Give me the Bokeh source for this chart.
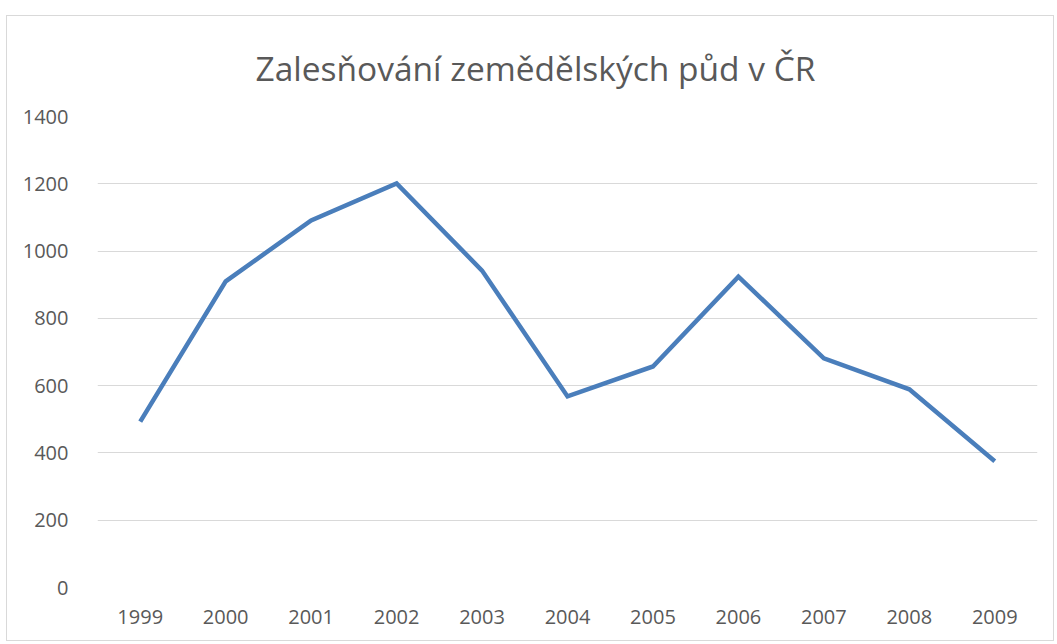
from bokeh.plotting import figure
from bokeh.models import Range1d, SingleIntervalTicker
from bokeh.embed import file_html
from bokeh.resources import INLINE

years = ["1999", "2000", "2001", "2002", "2003", "2004", "2005", "2006", "2007", "2008", "2009"]
values = [493, 910, 1091, 1201, 942, 568, 657, 924, 681, 589, 375]
title_text = "Zalesňování zemědělských půd v ČR"

p = figure(x_range=years, y_range=Range1d(0, 1400), width=1048, height=626,
           output_backend="svg", toolbar_location=None,
           min_border_left=90, min_border_right=18, min_border_top=100, min_border_bottom=55)
p.outline_line_color = None
p.line(x=years, y=values, line_color="#4A7EBB", line_width=4.5, line_join="miter")

p.xgrid.grid_line_color = None
p.ygrid.grid_line_color = "#D9D9D9"
p.ygrid.grid_line_width = 1
p.yaxis.ticker = SingleIntervalTicker(interval=200)

for ax in (p.xaxis[0], p.yaxis[0]):
    ax.axis_line_color = None
    ax.major_tick_line_color = None
    ax.minor_tick_line_color = None
    ax.major_label_text_font = "Open Sans"
    ax.major_label_text_font_size = "20px"
    ax.major_label_text_color = "#595959"
p.yaxis.major_label_standoff = 23
p.xaxis.major_label_standoff = 16

p.title.text = title_text
p.title.text_font = "Open Sans"
p.title.text_font_size = "33.5px"
p.title.text_font_style = "normal"
p.title.text_color = "#595959"
p.title.align = "left"
p.title.offset = 158
p.title.standoff = 51

p.styles = {"border": "1px solid #D9D9D9", "margin-left": "6px", "margin-top": "15px"}

open("out.html", "w").write(file_html(p, INLINE))
